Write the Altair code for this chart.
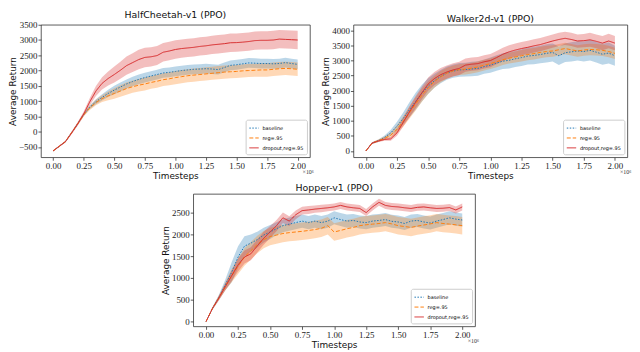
import altair as alt
import pandas as pd

SERIES = ["baseline", "reg=.95", "dropout,reg=.95"]
COLORS = ["#1f77b4", "#ff7f0e", "#d62728"]
DASHES = [[1.5, 1.5], [4, 2], [1, 0]]

T = [0.0, 0.05, 0.1, 0.15, 0.2, 0.25, 0.3, 0.35, 0.4, 0.45, 0.5, 0.55, 0.6, 0.65, 0.7,
     0.75, 0.8, 0.85, 0.9, 0.95, 1.0, 1.05, 1.1, 1.15, 1.2, 1.25, 1.3, 1.35, 1.4, 1.45,
     1.5, 1.55, 1.6, 1.65, 1.7, 1.75, 1.8, 1.85, 1.9, 1.95, 2.0]
X_TICKS = [0.0, 0.25, 0.5, 0.75, 1.0, 1.25, 1.5, 1.75, 2.0]

# ---------------- HalfCheetah-v1 ----------------
hc_base = [-630, -480, -330, -40, 250, 560, 800, 980, 1120, 1250, 1360, 1460, 1560, 1640, 1710,
           1770, 1820, 1870, 1920, 1940, 1970, 2000, 2020, 2040, 2050, 2060, 2050, 2030, 2100, 2170,
           2190, 2220, 2250, 2240, 2230, 2230, 2220, 2230, 2260, 2230, 2200]
hc_base_sd = [20, 20, 25, 30, 40, 50, 60, 80, 100, 120, 140, 150, 150, 155, 160,
              160, 160, 160, 160, 160, 160, 160, 160, 160, 160, 160, 160, 160, 160, 160,
              160, 160, 160, 160, 160, 160, 160, 160, 160, 160, 160]
hc_reg = [-630, -480, -330, -40, 250, 550, 780, 950, 1080, 1170, 1250, 1330, 1410, 1470, 1520,
          1560, 1610, 1650, 1700, 1730, 1770, 1800, 1830, 1850, 1870, 1890, 1910, 1930, 1950, 1960,
          1970, 1990, 2000, 2010, 2020, 2020, 2040, 2060, 2070, 2060, 2040]
hc_reg_sd = [20, 20, 25, 30, 40, 50, 70, 90, 110, 140, 170, 190, 200, 200, 205,
             210, 210, 210, 210, 215, 215, 215, 215, 215, 215, 215, 215, 215, 215, 215,
             215, 215, 215, 215, 220, 220, 220, 220, 220, 220, 220]
hc_drop = [-630, -480, -330, -50, 250, 580, 980, 1330, 1580, 1740, 1870, 2010, 2160, 2260, 2360,
           2430, 2450, 2490, 2600, 2640, 2690, 2720, 2740, 2760, 2790, 2810, 2840, 2860, 2880, 2910,
           2915, 2930, 2950, 2980, 2990, 2990, 3000, 3030, 3020, 3010, 3000]
hc_drop_sd = [20, 25, 30, 45, 60, 80, 120, 160, 200, 230, 260, 280, 300, 310, 320,
              320, 315, 310, 305, 300, 300, 300, 300, 300, 300, 300, 300, 300, 300, 300,
              300, 300, 300, 300, 300, 300, 300, 300, 300, 300, 300]

# ---------------- Walker2d-v1 ----------------
wk_base = [0, 260, 340, 450, 600, 820, 1080, 1370, 1650, 1920, 2150, 2330, 2470, 2580, 2650,
           2690, 2700, 2720, 2740, 2800, 2850, 2920, 2980, 3010, 3060, 3100, 3150, 3170, 3200, 3240,
           3270, 3160, 3260, 3290, 3320, 3300, 3340, 3280, 3210, 3250, 3160]
wk_base_sd = [10, 30, 40, 60, 100, 150, 200, 250, 280, 280, 260, 230, 220, 220, 220,
              230, 230, 240, 240, 240, 250, 260, 260, 270, 270, 280, 280, 290, 290, 300,
              300, 310, 310, 320, 320, 330, 340, 340, 350, 350, 330]
wk_reg = [0, 260, 340, 420, 520, 720, 980, 1270, 1560, 1850, 2100, 2300, 2460, 2580, 2660,
          2700, 2720, 2750, 2790, 2850, 2900, 2960, 3030, 3080, 3120, 3160, 3200, 3230, 3270, 3300,
          3320, 3360, 3400, 3360, 3320, 3350, 3370, 3360, 3340, 3300, 3240]
wk_reg_sd = [10, 30, 40, 60, 90, 130, 170, 200, 220, 220, 210, 200, 190, 180, 180,
             180, 180, 180, 180, 180, 180, 180, 180, 180, 180, 190, 190, 190, 190, 190,
             190, 190, 190, 190, 190, 190, 190, 190, 190, 190, 190]
wk_drop = [0, 260, 330, 380, 400, 600, 950, 1300, 1620, 1930, 2220, 2400, 2530, 2620, 2690,
           2740, 2850, 2880, 2900, 2960, 3000, 3100, 3210, 3290, 3350, 3400, 3440, 3490, 3530, 3590,
           3650, 3700, 3740, 3700, 3650, 3660, 3690, 3640, 3580, 3650, 3580]
wk_drop_sd = [10, 25, 30, 40, 60, 100, 140, 180, 200, 210, 220, 220, 220, 220, 220,
              220, 220, 220, 220, 220, 220, 220, 220, 220, 220, 220, 220, 220, 220, 220,
              220, 220, 220, 220, 220, 220, 230, 230, 240, 240, 240]

# ---------------- Hopper-v1 ----------------
hp_base = [0, 300, 550, 840, 1130, 1480, 1730, 1800, 1880, 1985, 2055, 2130, 2200, 2235, 2270,
           2305, 2270, 2305, 2270, 2305, 2380, 2340, 2305, 2320, 2285, 2270, 2305, 2320, 2340, 2300,
           2285, 2250, 2305, 2320, 2285, 2260, 2305, 2340, 2380, 2350, 2330]
hp_base_sd = [10, 30, 60, 120, 230, 250, 230, 200, 180, 170, 160, 150, 150, 150, 150,
              150, 150, 150, 150, 150, 150, 150, 150, 150, 150, 150, 150, 150, 150, 150,
              150, 150, 150, 150, 150, 150, 150, 150, 150, 150, 150]
hp_reg = [0, 300, 540, 800, 1050, 1270, 1480, 1625, 1770, 1880, 1950, 1985, 2020, 2040, 2055,
          2070, 2090, 2110, 2140, 2200, 2055, 2090, 2130, 2160, 2200, 2220, 2235, 2250, 2270, 2240,
          2200, 2180, 2160, 2190, 2215, 2240, 2270, 2250, 2235, 2220, 2200]
hp_reg_sd = [10, 30, 50, 90, 150, 180, 200, 200, 200, 200, 200, 200, 200, 200, 200,
             200, 200, 200, 200, 200, 200, 200, 200, 200, 200, 200, 200, 200, 200, 200,
             200, 200, 200, 200, 200, 200, 200, 200, 200, 200, 200]
hp_drop = [0, 300, 540, 800, 1050, 1300, 1480, 1555, 1735, 1910, 2055, 2200, 2380, 2305, 2450,
           2545, 2560, 2580, 2595, 2610, 2630, 2665, 2630, 2610, 2595, 2500, 2630, 2735, 2665, 2640,
           2630, 2610, 2595, 2620, 2630, 2610, 2595, 2600, 2615, 2560, 2630]
hp_drop_sd = [10, 25, 50, 80, 120, 150, 150, 150, 150, 150, 140, 130, 120, 110, 100,
              90, 90, 85, 85, 80, 80, 80, 80, 80, 80, 80, 80, 80, 80, 80,
              80, 80, 80, 80, 80, 80, 80, 80, 80, 80, 80]


def panel(title, means, sds, ydomain, yticks, w, h):
    rows = []
    for s, m, sd in zip(SERIES, means, sds):
        for t, mv, bv in zip(T, m, sd):
            rows.append(dict(t=t, series=s, mean=mv, lo=mv - bv, hi=mv + bv))
    df = pd.DataFrame(rows)
    xs = alt.Scale(domain=[-0.1, 2.1], nice=False, zero=False)
    ys = alt.Scale(domain=ydomain, nice=False, zero=False)
    xax = alt.Axis(values=X_TICKS, format=".2f", title="Timesteps")
    yax = alt.Axis(values=yticks, format="d", title="Average Return")
    base = alt.Chart(df)
    band = base.mark_area(opacity=0.3).encode(
        x=alt.X("t:Q", scale=xs, axis=xax),
        y=alt.Y("lo:Q", scale=ys, axis=yax),
        y2="hi:Q",
        fill=alt.Fill("series:N", scale=alt.Scale(domain=SERIES, range=COLORS), legend=None),
    )
    line = base.mark_line(strokeWidth=1).encode(
        x=alt.X("t:Q", scale=xs, axis=xax),
        y=alt.Y("mean:Q", scale=ys, axis=yax),
        stroke=alt.Stroke("series:N", scale=alt.Scale(domain=SERIES, range=COLORS),
                          sort=SERIES, legend=alt.Legend(title=None)),
        strokeDash=alt.StrokeDash("series:N", scale=alt.Scale(domain=SERIES, range=DASHES),
                                  sort=SERIES, legend=alt.Legend(title=None)),
    )
    exp = alt.Chart(pd.DataFrame({"txt": ["×10⁶"]})).mark_text(
        align="right", baseline="top", fontSize=6, font="Liberation Serif", color="#333"
    ).encode(x=alt.value(w + 4), y=alt.value(h + 12), text="txt:N")
    return alt.layer(band, line, exp).properties(
        width=w, height=h,
        title=alt.TitleParams(title, fontSize=9.5, font="DejaVu Sans", fontWeight="normal", offset=1),
    ).resolve_legend(stroke="independent", strokeDash="independent", fill="independent")


p1 = panel("HalfCheetah-v1 (PPO)", [hc_base, hc_reg, hc_drop], [hc_base_sd, hc_reg_sd, hc_drop_sd],
           [-840, 3500], [-500, 0, 500, 1000, 1500, 2000, 2500, 3000, 3500], 272, 134)
p2 = panel("Walker2d-v1 (PPO)", [wk_base, wk_reg, wk_drop], [wk_base_sd, wk_reg_sd, wk_drop_sd],
           [-210, 4190], [0, 500, 1000, 1500, 2000, 2500, 3000, 3500, 4000], 277, 134)
p3 = panel("Hopper-v1 (PPO)", [hp_base, hp_reg, hp_drop], [hp_base_sd, hp_reg_sd, hp_drop_sd],
           [-110, 2930], [0, 500, 1000, 1500, 2000, 2500], 285, 134)

top = alt.hconcat(p1, p2, spacing=6).resolve_legend(
    stroke="independent", strokeDash="independent", fill="independent"
).resolve_scale(stroke="independent", strokeDash="independent", fill="independent")

chart = alt.vconcat(top, p3, spacing=2, center=True).resolve_legend(
    stroke="independent", strokeDash="independent", fill="independent"
).resolve_scale(stroke="independent", strokeDash="independent", fill="independent").properties(
    padding=0
).configure_view(
    stroke="#333", strokeWidth=0.8
).configure_title(
    fontWeight="normal", font="DejaVu Sans", fontSize=9.5, color="#111"
).configure_axis(
    grid=False, domain=False, tickSize=3, tickColor="#333", tickWidth=0.8,
    labelFont="Liberation Serif", labelFontSize=9, labelColor="#222", labelPadding=1,
    titleFont="DejaVu Sans", titleFontSize=9, titleFontWeight="normal", titleColor="#111",
    titlePadding=1,
).configure_legend(
    orient="bottom-right", offset=3, padding=3, fillColor="white", strokeColor="#ccc",
    cornerRadius=2, labelFontSize=5, labelFont="DejaVu Sans", symbolType="stroke",
    symbolSize=90, symbolStrokeWidth=1, rowPadding=1, labelOffset=3,
)

chart.save("out.html", embed_options={"renderer": "svg", "actions": False})
